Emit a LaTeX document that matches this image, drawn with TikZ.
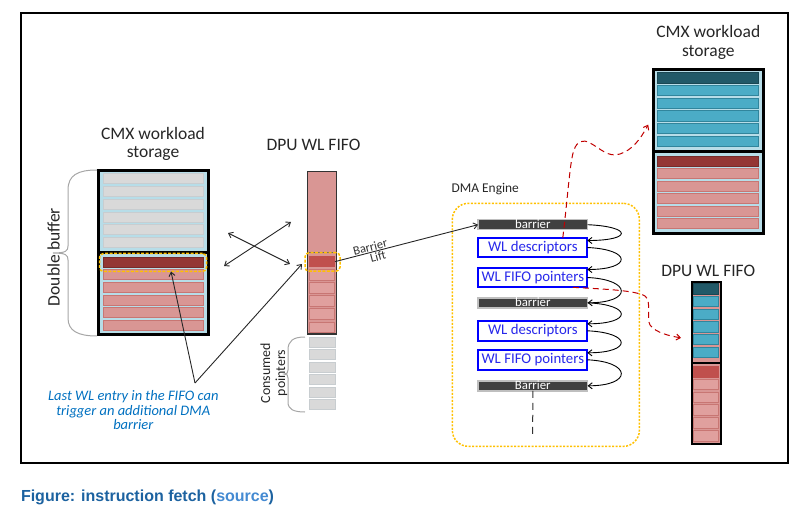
\documentclass[tikz,border=0pt]{standalone}
\usepackage{fontspec}
\setmainfont{Carlito}
\newfontfamily\capfont{Liberation Sans}
\usetikzlibrary{arrows.meta,calc}
\definecolor{lblue}{RGB}{183,221,232}
\definecolor{rowgray}{RGB}{217,217,217}
\definecolor{rowgrayb}{RGB}{200,205,208}
\definecolor{pinkf}{RGB}{217,150,148}
\definecolor{pinkb}{RGB}{200,118,115}
\definecolor{ltpink}{RGB}{224,160,158}
\definecolor{darkred}{RGB}{148,54,52}
\definecolor{midred}{RGB}{192,80,77}
\definecolor{tealdk}{RGB}{33,89,104}
\definecolor{tealb}{RGB}{75,172,198}
\definecolor{tealbb}{RGB}{49,133,156}
\definecolor{hlyel}{RGB}{255,192,0}
\definecolor{notebl}{RGB}{0,112,192}
\definecolor{redd}{RGB}{192,0,0}
\definecolor{bardk}{RGB}{64,64,64}
\definecolor{barbd}{RGB}{191,191,191}
\definecolor{wlblue}{RGB}{0,0,255}
\definecolor{wltext}{RGB}{40,40,235}
\definecolor{capdk}{RGB}{28,98,160}
\definecolor{caplk}{RGB}{68,138,210}
\begin{document}
\begin{tikzpicture}[x=1pt,y=-1pt,
  >={Straight Barb[angle=75:5pt]},
  every node/.style={inner sep=0pt, outer sep=0pt},
  ttl/.style={align=center, font=\fontsize{17.5}{18.4}\selectfont, text=black!85},
  grayrow/.style={fill=rowgray, draw=rowgrayb, line width=0.8pt},
  pinkrow/.style={fill=pinkf, draw=pinkb, line width=0.8pt},
  ltpinkrow/.style={fill=ltpink, draw=pinkb, line width=0.8pt},
  bluerow/.style={fill=tealb, draw=tealbb, line width=0.8pt},
  hlbox/.style={draw=hlyel, line width=1.5pt, dash pattern=on 3pt off 1.5pt, rounded corners=4pt},
  wlbox/.style={draw=wlblue, line width=2pt, fill=white, minimum width=109pt, minimum height=19.6pt, text=wltext, font=\fontsize{14.8}{16}\selectfont},
  barbox/.style={draw=barbd, line width=1.5pt, fill=bardk, minimum width=109.5pt, minimum height=10pt, text=white, font=\fontsize{12.8}{15}\selectfont, text height=8pt, text depth=0pt},
  seqarrow/.style={->, line width=0.9pt, black},
  reddash/.style={->, draw=redd, line width=1pt, dash pattern=on 6pt off 4pt},
  bracestyle/.style={draw=black!35, line width=1pt},
  thinarrow/.style={line width=0.9pt, black!85},
  liftlbl/.style={sloped, font=\fontsize{12.5}{13}\selectfont, text=black!80},
]
\useasboundingbox (0,0) rectangle (806,521);
\draw[line width=1.5pt] (21,13) rectangle (788,463);

% ---------- left CMX workload storage
\node[draw=black, line width=3pt, fill=lblue, minimum width=110pt, minimum height=164pt] (cmxL) at (153.5,252.5) {};
\foreach \i in {0,...,5}
  \draw[grayrow] (103.5,{173.5+12.83*\i}) rectangle (203.5,{183.5+12.83*\i});
\draw[fill=darkred, draw=darkred!80!black, line width=0.8pt] (103.5,257) rectangle (203.5,267.5);
\foreach \i in {1,...,5}
  \draw[pinkrow] (103.5,{257+12.7*\i}) rectangle (203.5,{267+12.7*\i});
\draw[line width=3pt] (cmxL.west) -- (cmxL.east);
\node[hlbox, minimum width=107pt, minimum height=18pt] (hlL) at (153,262.5) {};

% ---------- middle DPU WL FIFO
\node[draw=black!80, line width=1.5pt, fill=pinkf, minimum width=29pt, minimum height=162.8pt] (fifoM) at (322,252.85) {};
\draw[line width=0.8pt, black!60] (fifoM.west) -- (fifoM.east);
\node[fill=midred, minimum width=26pt, minimum height=11.3pt] (fifoTop) at (322,261.65) {};
\foreach \i in {1,...,5}
  \draw[ltpinkrow] (309.5,{256.5+13.1*\i}) rectangle (334.5,{267+13.1*\i});
\node[hlbox, minimum width=35pt, minimum height=18.5pt] (hlM) at (322.5,262) {};
\foreach \i in {0,...,5}
  \draw[grayrow] (309.5,{337+12.5*\i}) rectangle (335.2,{347+12.5*\i});

% ---------- right CMX workload storage
\node[draw=black, line width=3pt, fill=lblue, minimum width=110.3pt, minimum height=163.7pt] (cmxR) at (708.35,151.65) {};
\draw[fill=tealdk, draw=tealdk!80!black, line width=0.8pt] (657.8,72.8) rectangle (758.5,83.5);
\foreach \i in {1,...,5}
  \draw[bluerow] (657.8,{72.8+12.67*\i}) rectangle (758.5,{83+12.67*\i});
\draw[fill=darkred, draw=darkred!80!black, line width=0.8pt] (657.8,156) rectangle (758.5,166.3);
\foreach \i in {1,...,5}
  \draw[pinkrow] (657.8,{156+12.55*\i}) rectangle (758.5,{166+12.55*\i});
\draw[line width=3pt] (cmxR.west) -- (cmxR.east);

% ---------- right DPU WL FIFO
\node[draw=black, line width=2pt, fill=pinkf, minimum width=28.7pt, minimum height=162.3pt] (fifoR) at (706.35,362.85) {};
\draw[fill=tealdk, draw=tealdk!80!black, line width=0.8pt] (693.8,283.8) rectangle (718.8,294);
\foreach \i in {1,...,5}
  \draw[bluerow] (693.8,{283.8+12.67*\i}) rectangle (718.8,{294+12.67*\i});
\draw[fill=midred, draw=midred, line width=0.8pt] (693.8,366.5) rectangle (718.8,377);
\foreach \i in {1,...,5}
  \draw[ltpinkrow] (693.8,{366.5+12.78*\i}) rectangle (718.8,{377+12.78*\i});
\draw[line width=2pt] (fifoR.west) -- (fifoR.east);

% ---------- titles and labels
\node[ttl] (tCmxL) at (153,144) {CMX workload\\storage};
\node[ttl] (tFifoM) at (313.5,145) {DPU WL FIFO};
\node[ttl] (tCmxR) at (708.3,42.5) {CMX workload\\storage};
\node[ttl] (tFifoR) at (708.3,270.7) {DPU WL FIFO};
\node[font=\fontsize{13.4}{15}\selectfont, anchor=west, text=black!85] (tDma) at (451.7,189) {DMA Engine};
\node[rotate=90, font=\fontsize{17.5}{18}\selectfont, text=black!85] (tDbl) at (53.5,257) {Double buffer};
\node[rotate=90, align=center, font=\fontsize{13.9}{15}\selectfont, text=black!85] (tCons) at (274,373) {Consumed\\pointers};
\node[align=center, text=notebl, font=\itshape\fontsize{14.5}{14.7}\selectfont] (note) at (133.3,410.3) {Last WL entry in the FIFO can\\trigger an additional DMA\\barrier};

% ---------- braces
\draw[bracestyle] (97,170) .. controls (78,170) and (68,175) .. (68,190) -- (68,246)
  .. controls (68,251) and (66,253) .. (53,253) .. controls (66,253) and (68,255) .. (68,260)
  -- (68,318) .. controls (68,331) and (78,336) .. (97,336);
\draw[bracestyle] (305,337) .. controls (293,337) and (288,341) .. (288,350) -- (288,370)
  .. controls (288,373) and (287,374) .. (284,374) .. controls (287,374) and (288,375) .. (288,378)
  -- (288,402) .. controls (288,409) and (293,412) .. (305,412);

% ---------- DMA engine
\node[draw=hlyel, line width=1.5pt, dash pattern=on 2pt off 1.5pt, rounded corners=16pt, minimum width=187pt, minimum height=243pt] (dma) at (545.85,324.85) {};
\node[barbox] (bar1) at (532.8,224.7) {barrier};
\node[wlbox] (desc1) at (532.8,247.5) {WL descriptors};
\node[wlbox] (ptr1) at (532.8,277.5) {WL FIFO pointers};
\node[barbox] (bar2) at (532.8,302.8) {barrier};
\node[wlbox] (desc2) at (532.8,330.8) {WL descriptors};
\node[wlbox] (ptr2) at (532.8,359.8) {WL FIFO pointers};
\node[barbox] (bar3) at (532.8,385.8) {Barrier};
\coordinate (dmaEnd) at (532.7,437);
\draw[line width=1pt, black!80, dash pattern=on 7pt off 5pt] (bar3.south) -- (dmaEnd);

\foreach \a/\b/\s in {bar1/desc1/7, desc1/ptr1/8, ptr1/bar2/0, bar2/desc2/7, desc2/ptr2/7, ptr2/bar3/0}
  \draw[seqarrow] (\a.east) .. controls +(45,2) and +(45,0) .. ([yshift=\s pt]\b.east);

% ---------- black connectors
\coordinate (xa1) at (228,233); \coordinate (xa2) at (290,264);
\coordinate (xb1) at (224,266); \coordinate (xb2) at (291,222);
\draw[thinarrow, <->] (xa1) -- (xa2);
\draw[thinarrow, <->] (xb1) -- (xb2);
\coordinate (vtx) at (195,383);
\draw[thinarrow, ->] (vtx) -- ([xshift=18pt]hlL.south);
\draw[thinarrow, ->] (vtx) -- ([xshift=-3pt,yshift=-2pt]hlM.west);
\draw[thinarrow, ->] (fifoTop.east) --
  node[liftlbl, pos=0.255, above=1pt] (lblBarrier) {Barrier}
  node[liftlbl, pos=0.29, below=1.5pt] (lblLift) {Lift} (bar1.west);

% ---------- red dashed connectors
\draw[reddash] ([xshift=30pt]desc1.north) .. controls (568,195) and (570,160) .. (574,150)
  .. controls (577,141) and (583,139) .. (590,143) .. controls (600,148) and (608,158) .. (620,154)
  .. controls (632,150) and (640,140) .. ([xshift=-5pt,yshift=27pt]cmxR.west);
\draw[reddash] ([xshift=40pt]ptr1.south) .. controls (600,289) and (635,290) .. (645,296)
  .. controls (652,301) and (646,318) .. (650,325) .. controls (656,333) and (670,336) .. ([xshift=-11pt,yshift=25pt]fifoR.west);

% ---------- caption
\node[anchor=west, font=\capfont\bfseries\fontsize{16}{19}\selectfont] (cap) at (21,497) {\textcolor{capdk}{Figure: instruction fetch (}\textcolor{caplk}{source}\textcolor{capdk}{)}};
\end{tikzpicture}
\end{document}
